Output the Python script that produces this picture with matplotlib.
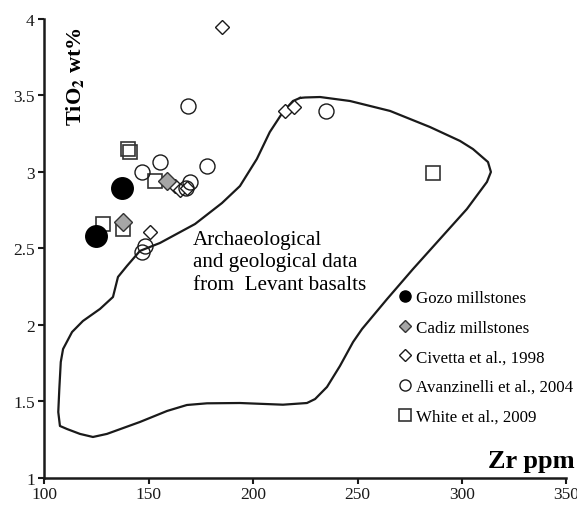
import matplotlib
matplotlib.use("Agg")
import matplotlib.pyplot as plt

plt.rcParams['font.family'] = ['Liberation Serif', 'DejaVu Serif']
plt.rcParams['mathtext.fontset'] = 'stix'

# Zr (ppm), TiO2 (wt%) per data set
gozo_zr = [137.0, 124.5]
gozo_ti = [2.893, 2.580]

cadiz_zr = [158.7, 137.7]
cadiz_ti = [2.943, 2.673]

civetta_zr = [185.0, 215.2, 219.6, 162.5, 164.9, 168.2, 150.5]
civetta_ti = [3.948, 3.397, 3.423, 2.908, 2.882, 2.895, 2.606]

avanz_zr = [168.6, 234.7, 155.3, 177.7, 146.6, 169.7, 167.8, 148.1, 146.6]
avanz_ti = [3.429, 3.401, 3.063, 3.041, 2.998, 2.935, 2.895, 2.516, 2.475]

white_zr = [140.1, 140.9, 152.9, 128.2, 137.7, 285.9]
white_ti = [3.150, 3.129, 2.943, 2.660, 2.627, 2.992]

# outline of the Levant basalts field
field_zr = [222.4, 219.0, 214.2, 207.9, 201.7, 193.6, 185.0, 172.1, 155.3, 145.7,
            139.5, 135.2, 132.8, 126.6, 118.4, 113.2, 108.9, 107.8, 107.1, 106.6,
            107.4, 110.8, 117.0, 123.2, 129.9, 145.7, 158.7, 168.2, 177.8, 193.6,
            214.2, 225.7, 229.6, 235.3, 241.5, 247.8, 252.1, 264.1, 276.5, 289.4,
            302.3, 311.9, 313.8, 312.4, 305.2, 299.0, 284.6, 265.5, 246.3, 232.0,
            224.8, 222.4]
field_ti = [3.484, 3.464, 3.392, 3.261, 3.085, 2.908, 2.797, 2.660, 2.536, 2.484,
            2.386, 2.314, 2.183, 2.105, 2.026, 1.954, 1.843, 1.758, 1.582, 1.431,
            1.340, 1.320, 1.288, 1.268, 1.288, 1.366, 1.438, 1.477, 1.488, 1.490,
            1.479, 1.490, 1.516, 1.595, 1.732, 1.889, 1.974, 2.170, 2.366, 2.562,
            2.758, 2.935, 3.000, 3.065, 3.150, 3.203, 3.294, 3.399, 3.464, 3.490,
            3.487, 3.484]

x_ticks = [100, 150, 200, 250, 300, 350]
y_ticks = [1, 1.5, 2, 2.5, 3, 3.5, 4]
y_ticklabels = ['1', '1.5', '2', '2.5', '3', '3.5', '4']

fig = plt.figure(figsize=(5.77, 5.06), dpi=100)
ax = fig.add_axes([0.0771, 0.0534, 0.9047, 0.9071])

ax.plot(field_zr, field_ti, color='#1a1a1a', lw=1.6, zorder=1,
        solid_joinstyle='round')

ax.plot(gozo_zr, gozo_ti, 'o', ms=15.5, mfc='black', mec='black', ls='none',
        label='Gozo millstones', zorder=3)
ax.plot(cadiz_zr, cadiz_ti, 'D', ms=9.5, mfc='#a6a6a6', mec='#333333', mew=1.0,
        ls='none', label='Cadiz millstones', zorder=4)
ax.plot(civetta_zr, civetta_ti, 'D', ms=7.5, mfc='white', mec='#1a1a1a', mew=1.0,
        ls='none', label='Civetta et al., 1998', zorder=3)
ax.plot(avanz_zr, avanz_ti, 'o', ms=10.8, mfc='none', mec='#1a1a1a', mew=1.0,
        ls='none', label='Avanzinelli et al., 2004', zorder=3)
ax.plot(white_zr, white_ti, 's', ms=10.5, mfc='none', mec='#333333', mew=1.2,
        ls='none', label='White et al., 2009', zorder=2)

ax.set_xlim(100, 350)
ax.set_ylim(1, 4)
ax.set_xticks(x_ticks)
ax.set_yticks(y_ticks)
ax.set_yticklabels(y_ticklabels)
ax.tick_params(direction='out', length=4, width=1.5, labelsize=12.5, colors='#1a1a1a')
ax.tick_params(axis='x', pad=2)
ax.tick_params(axis='y', pad=3)
for s in ['top', 'right']:
    ax.spines[s].set_visible(False)
for s in ['left', 'bottom']:
    ax.spines[s].set_linewidth(1.8)
    ax.spines[s].set_color('#1a1a1a')

ax.text(0.058, 0.876, r'TiO$_\mathbf{2}$ wt%', transform=ax.transAxes, rotation=90,
        fontsize=16, fontweight='bold', ha='center', va='center')
ax.text(1.016, 0.039, 'Zr ppm', transform=ax.transAxes, fontsize=19,
        fontweight='bold', ha='right', va='center')
ax.text(0.2845, 0.541, 'Archaeological\nand geological data\nfrom  Levant basalts',
        transform=ax.transAxes, fontsize=15.2, ha='left', va='top', linespacing=1.27)

leg = ax.legend(loc='upper left', bbox_to_anchor=(0.677, 0.409), frameon=False,
                fontsize=12.2, handlelength=0.8, handletextpad=0.25, labelspacing=0.8,
                borderpad=0, borderaxespad=0)
for h, ms in zip(leg.legend_handles, [8, 6.5, 6.5, 8, 8]):
    h.set_markersize(ms)

fig.savefig('out.png', dpi=100)
